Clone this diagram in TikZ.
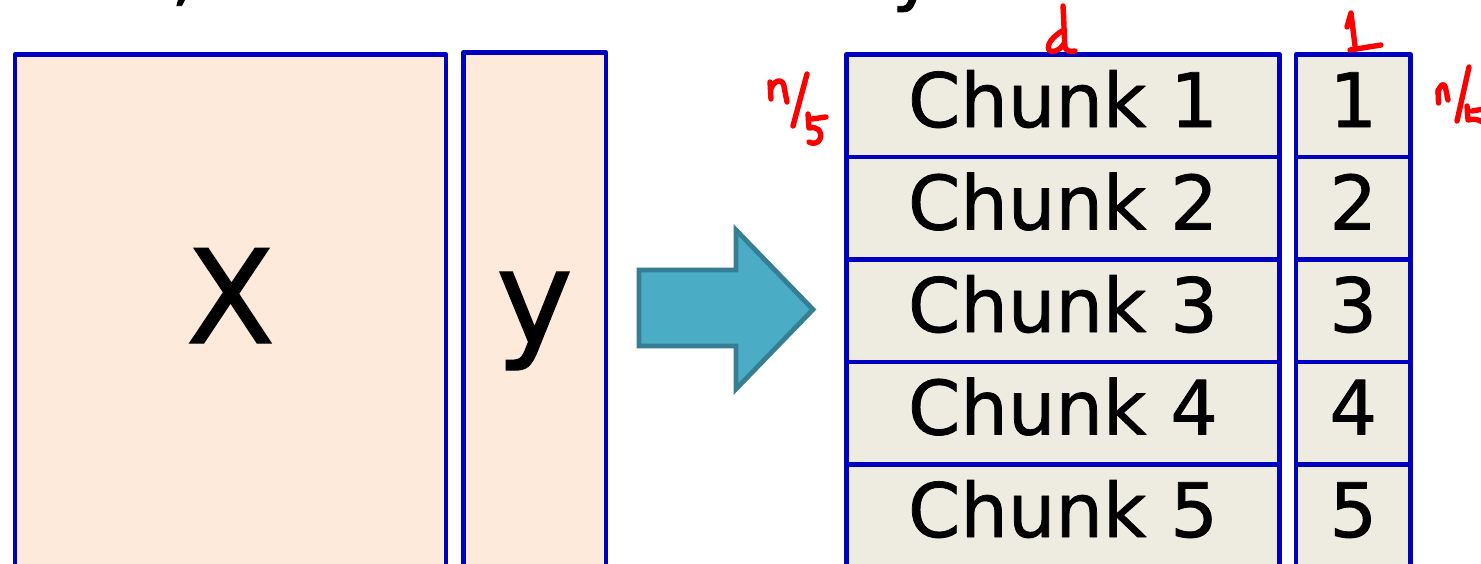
\documentclass[tikz,border=0pt]{standalone}
\usepackage{fontspec}
\setmainfont{DejaVu Sans}[FakeBold=1]

\definecolor{boxblue}{RGB}{0,0,192}
\definecolor{xfill}{RGB}{253,234,218}
\definecolor{chunkfill}{RGB}{238,236,225}
\definecolor{arrowfill}{RGB}{75,172,198}
\definecolor{arrowedge}{RGB}{53,126,147}
\definecolor{pen}{RGB}{255,0,0}

\begin{document}
\begin{tikzpicture}[x=1pt,y=-1pt,
  frame/.style={draw=boxblue, line width=4.8pt, line join=round,
    inner sep=0pt, outer sep=0pt},
  datablock/.style={frame, fill=xfill, anchor=north west},
  chunkbox/.style={frame, fill=chunkfill, minimum width=433pt,
    minimum height=102.5pt, text height=60pt, text depth=17.5pt,
    font=\fontsize{75}{80}\selectfont},
  numbox/.style={chunkbox, minimum width=114.5pt},
  biglabel/.style={anchor=base, inner sep=0pt,
    font=\fontsize{130}{140}\selectfont},
  cutoff/.style={anchor=base, inner sep=0pt,
    font=\fontsize{75}{80}\selectfont},
  blockarrow/.style={fill=arrowfill, draw=arrowedge, line width=4.8pt,
    line join=miter},
  ink/.style={draw=pen, line width=5.4pt, line cap=round, line join=round},
]
\useasboundingbox (0,0) rectangle (1481,563);
\clip (0,0) rectangle (1481,563);

% fragments of the heading line above
\node[cutoff] (comma) at (183,-3) {,};
\node[cutoff] (ytail) at (914,-3.6) {y};

% full data: feature matrix and target vector
\node[datablock, minimum width=431pt, minimum height=540pt] (xbox) at (15,54.5) {};
\node[datablock, minimum width=142.5pt, minimum height=540pt] (ybox) at (463.5,52.5) {};
\node[biglabel] (xlabel) at (230.5,343) {X};
\node[biglabel] (ylabel) at (534.5,343) {y};

% block arrow
\draw[blockarrow] (639,270) -- (736,270) -- (736,230) -- (813,309.5)
  -- (736,389) -- (736,346) -- (639,346) -- cycle;

% chunked data
\foreach \i in {1,...,5} {
  \node[chunkbox] (c\i) at (1063,{54.5+102.5*(\i-0.5)}) {Chunk \i};
  \node[numbox] (n\i) at (1353.25,{54.5+102.5*(\i-0.5)}) {\i};
}

% handwritten "d" above the chunk column
\draw[ink] (1063,6) .. controls (1064,20) and (1064,35) .. (1065,47)
  .. controls (1066,51) and (1070,52) .. (1075,51);
\draw[ink] (1062,31) .. controls (1054,36) and (1046,44) .. (1049,50)
  .. controls (1052,54) and (1060,50) .. (1064,44);

% handwritten "1" above the label column
\draw[ink] (1347,27) -- (1351,13) -- (1355,46);
\draw[ink] (1350,50) -- (1381,45);

% handwritten "n/5" left of the chunks
\draw[ink] (770,82) -- (771,99);
\draw[ink] (770.5,90) .. controls (773,81) and (782,77) .. (784,86)
  .. controls (785,92) and (786,97) .. (787,102);
\draw[ink] (807,74) -- (793,126);
\draw[ink] (812,119) -- (826,117);
\draw[ink] (808,114) -- (809,128) .. controls (817,126) and (823,131) .. (820,139)
  .. controls (818,144) and (812,144) .. (809,142);

% handwritten "n/5" right of the labels
\draw[ink] (1438,90) -- (1438.5,103);
\draw[ink] (1438,93) .. controls (1440,84) and (1444,82) .. (1445.5,88)
  .. controls (1446.5,92) and (1447,96) .. (1448,100);
\draw[ink] (1469,67) -- (1457,121);
\draw[ink] (1472,111) -- (1484,109);
\draw[ink] (1467,106) -- (1468,120) .. controls (1474,118) and (1480,120) .. (1484,123);
\end{tikzpicture}
\end{document}
